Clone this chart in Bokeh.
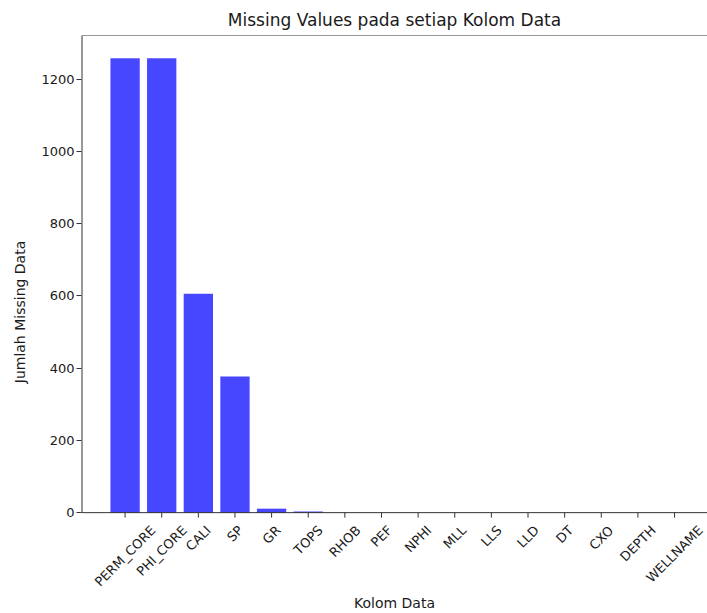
import math
from bokeh.plotting import figure
from bokeh.models import Range1d, FixedTicker, ColumnDataSource, Span
from bokeh.core.properties import value
from bokeh.embed import file_html
from bokeh.resources import INLINE

# ---- data ----
columns = ["PERM_CORE", "PHI_CORE", "CALI", "SP", "GR", "TOPS", "RHOB", "PEF",
           "NPHI", "MLL", "LLS", "LLD", "DT", "CXO", "DEPTH", "WELLNAME"]
missing = [1258, 1258, 606, 377, 11, 3, 0, 0, 0, 0, 0, 0, 0, 0, 0, 0]
y_ticks = [0, 200, 400, 600, 800, 1000, 1200]

FONT = "DejaVu Sans"
TXT = "#1a1a1a"
AX = "#333333"

xs = list(range(len(columns)))
X0, X1 = -1.19, 15.9
Y0, Y1 = -210, 1321   # frame extends below zero to hold the rotated labels

p = figure(width=707, height=613, output_backend="svg", toolbar_location=None,
           x_range=Range1d(X0, X1), y_range=Range1d(Y0, Y1),
           title="Missing Values pada setiap Kolom Data",
           min_border_left=81, min_border_right=0, min_border_top=35,
           min_border_bottom=25)

p.outline_line_color = None
p.grid.visible = False
p.background_fill_color = "white"
p.border_fill_color = "white"

p.title.text_font = FONT
p.title.text_font_size = "17px"
p.title.text_font_style = "normal"
p.title.text_color = TXT
p.title.align = "center"
p.title.standoff = 12

src = ColumnDataSource(dict(x=xs, top=missing))
p.vbar(x="x", top="top", bottom=0, width=0.8, source=src,
       fill_color="blue", fill_alpha=0.72, line_color=None)

# spines: top, left (0..Y1) and bottom (at y=0)
p.add_layout(Span(location=Y1, dimension="width", line_color=AX, line_width=1))
p.segment(x0=[X0], y0=[0], x1=[X0], y1=[Y1], line_color=AX, line_width=2)
p.segment(x0=[X0], y0=[0], x1=[X1], y1=[0], line_color=AX, line_width=1)
# x ticks, 5px downward
p.ray(x=xs, y=[0] * len(xs), length=5, length_units="screen",
      angle=-math.pi / 2, line_color=AX, line_width=1)

# y axis
ya = p.yaxis[0]
ya.ticker = FixedTicker(ticks=y_ticks)
ya.axis_label = "Jumlah Missing Data"
ya.axis_label_text_font = FONT
ya.axis_label_text_font_size = "14px"
ya.axis_label_text_font_style = "normal"
ya.axis_label_text_color = TXT
ya.axis_label_standoff = 10
ya.major_label_text_font = FONT
ya.major_label_text_font_size = "13px"
ya.major_label_text_color = TXT
ya.major_label_standoff = 2
ya.major_tick_in = 0
ya.major_tick_out = 5
ya.minor_tick_out = 0
ya.minor_tick_in = 0
ya.axis_line_color = None
ya.major_tick_line_color = AX

# x axis: only its title (ticks/labels drawn in frame, matplotlib-style)
xa = p.xaxis[0]
xa.ticker = FixedTicker(ticks=[])
xa.axis_label = "Kolom Data"
xa.axis_label_text_font = FONT
xa.axis_label_text_font_size = "14px"
xa.axis_label_text_font_style = "normal"
xa.axis_label_text_color = TXT
xa.axis_label_standoff = 6
xa.major_label_standoff = 0
xa.major_tick_in = 0
xa.major_tick_out = 0
xa.minor_tick_out = 0
xa.minor_tick_in = 0
xa.axis_line_color = None

# approximate DejaVu Sans advance widths (em/1000) for centred rotated labels
W = dict(A=684, B=686, C=698, D=770, E=632, F=575, G=775, H=752, I=295, L=557,
         M=863, N=748, O=787, P=603, R=695, S=635, T=611, W=989, X=685, _=500)
fs = 13
offs = []
for c in columns:
    w = sum(W.get(ch, 620) for ch in c) * fs / 1000.0
    h = fs * 1.17
    offs.append(10 + (w + h) * 0.7071 / 2)

lsrc = ColumnDataSource(dict(x=xs, y=[0] * len(xs), text=columns, yo=offs))
p.text(x="x", y="y", text="text", y_offset="yo", source=lsrc,
       angle=math.pi / 4, text_align="center", text_baseline="middle",
       text_font=value(FONT), text_font_size="13px", text_color=TXT)

open("out.html", "w").write(file_html(p, INLINE))
